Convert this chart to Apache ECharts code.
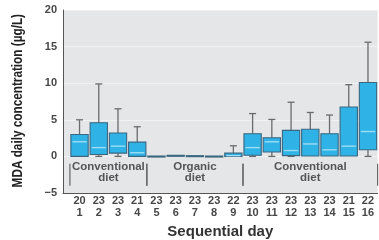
<!DOCTYPE html>
<html>
<head>
<meta charset="utf-8">
<script src="https://cdn.jsdelivr.net/npm/echarts@6/dist/echarts.min.js"></script>
<style>
  html, body { margin: 0; padding: 0; background: #fff; }
  #chart { width: 379px; height: 240px; }
</style>
</head>
<body>
<div id="chart"></div>
<script>
// sequential days and number of samples per day
const days = [1, 2, 3, 4, 5, 6, 7, 8, 9, 10, 11, 12, 13, 14, 15, 16];
const nSamples = [20, 23, 23, 21, 23, 23, 23, 23, 22, 23, 23, 23, 23, 23, 21, 22];

// box statistics (ug/L)
const lowVals = [0, 0, 0, 0, 0, 0, 0, 0, 0, 0, 0, 0, 0, 0, 0, 0];
const q1Vals = [0, 0.25, 0.45, 0, 0, 0.05, 0.02, 0, 0, 0.15, 0.6, 0.1, 0.05, 0.05, 0.05, 0.9];
const medVals = [2.0, 1.2, 1.4, 0.5, 0, 0.1, 0.05, 0, 0.1, 1.2, 2.0, 0.8, 1.7, 0.9, 1.4, 3.4];
const q3Vals = [3.0, 4.6, 3.2, 1.95, 0.05, 0.15, 0.1, 0.05, 0.45, 3.1, 2.55, 3.55, 3.7, 3.1, 6.75, 10.1];
const highVals = [5.0, 9.9, 6.5, 4.05, 0.05, 0.2, 0.15, 0.05, 1.45, 5.85, 5.05, 7.4, 6.0, 5.65, 9.8, 15.6];

// diet periods
const groupNames = ['Conventional\ndiet', 'Organic\ndiet', 'Conventional\ndiet'];
const groupStart = [0.5, 4.5, 9.5];
const groupEnd = [4.5, 9.5, 16.5];

const yTicks = [-5, 0, 5, 10, 15, 20];
const yTitle = 'MDA daily concentration (\u00b5g/L)';

const boxData = days.map((d, i) => [d, lowVals[i], q1Vals[i], medVals[i], q3Vals[i], highVals[i]]);
const groupData = groupNames.map((g, i) => [groupStart[i], groupEnd[i], i]);

const labelFont = "'Liberation Sans', Arial, sans-serif";

const chart = echarts.init(document.getElementById('chart'));

const renderBox = (params, api) => {
  const x = api.value(0);
  const unit = api.size([1, 0])[0];
  const half = unit * 0.45;
  const cap = 3.5;
  const pLow = api.coord([x, api.value(1)]);
  const pQ1 = api.coord([x, api.value(2)]);
  const pMed = api.coord([x, api.value(3)]);
  const pQ3 = api.coord([x, api.value(4)]);
  const pHigh = api.coord([x, api.value(5)]);
  const whisker = { stroke: '#6b6b6b', lineWidth: 1.3 };
  const children = [];
  if (pHigh[1] < pQ3[1] - 0.5) {
    children.push(
      { type: 'line', shape: { x1: pHigh[0], y1: pHigh[1], x2: pQ3[0], y2: pQ3[1] }, style: whisker },
      { type: 'line', shape: { x1: pHigh[0] - cap, y1: pHigh[1], x2: pHigh[0] + cap, y2: pHigh[1] }, style: whisker }
    );
  }
  if (pLow[1] > pQ1[1] + 0.5) {
    children.push(
      { type: 'line', shape: { x1: pLow[0], y1: pLow[1], x2: pQ1[0], y2: pQ1[1] }, style: whisker },
      { type: 'line', shape: { x1: pLow[0] - cap, y1: pLow[1], x2: pLow[0] + cap, y2: pLow[1] }, style: whisker }
    );
  }
  const h = Math.max(pQ1[1] - pQ3[1], 1);
  children.push({
    type: 'rect',
    shape: { x: pQ3[0] - half, y: pQ3[1], width: half * 2, height: h },
    style: { fill: '#2fb3e6', stroke: '#3b6680', lineWidth: 1.1 }
  });
  if (pQ1[1] - pQ3[1] > 3) {
    children.push({
      type: 'line',
      shape: { x1: pMed[0] - half + 1.5, y1: pMed[1], x2: pMed[0] + half - 1.5, y2: pMed[1] },
      style: { stroke: '#9edcf5', lineWidth: 1.4 }
    });
  }
  return { type: 'group', children };
};

const renderGroup = (params, api) => {
  const x0 = api.value(0);
  const x1 = api.value(1);
  const idx = api.value(2);
  const a0 = api.coord([x0, -1]);
  const b0 = api.coord([x0, -4]);
  const a1 = api.coord([x1, -1]);
  const b1 = api.coord([x1, -4]);
  const mid = api.coord([(x0 + x1) / 2, -2.2]);
  const sep = { stroke: '#666', lineWidth: 1.2 };
  return {
    type: 'group',
    children: [
      { type: 'line', shape: { x1: a0[0], y1: a0[1], x2: b0[0], y2: b0[1] }, style: sep },
      { type: 'line', shape: { x1: a1[0], y1: a1[1], x2: b1[0], y2: b1[1] }, style: sep },
      {
        type: 'text',
        x: mid[0],
        y: mid[1],
        style: {
          text: groupNames[idx],
          fill: '#555',
          font: "bold 11.5px " + labelFont,
          align: 'center',
          verticalAlign: 'middle',
          lineHeight: 11
        }
      }
    ]
  };
};

chart.setOption({
  animation: false,
  // rotated, condensed y-axis title
  graphic: [
    {
      type: 'text',
      left: 11,
      top: 14,
      rotation: Math.PI / 2,
      scaleX: 0.84,
      style: {
        text: yTitle,
        fill: '#222',
        font: 'bold 14px ' + labelFont
      }
    }
  ],
  grid: {
    left: 63,
    right: 1.4,
    top: 10,
    bottom: 47,
    outerBoundsMode: 'none',
    show: true,
    backgroundColor: '#e5e6e8',
    borderWidth: 0
  },
  xAxis: {
    type: 'value',
    min: 0.14,
    max: 16.5,
    name: 'Sequential day',
    nameLocation: 'middle',
    nameGap: 28,
    nameTextStyle: { color: '#333', fontSize: 15, fontWeight: 'bold', fontFamily: labelFont },
    axisLine: { onZero: false, lineStyle: { color: '#555', width: 1 } },
    axisTick: { show: false },
    splitLine: { show: false },
    axisLabel: {
      customValues: days,
      margin: 2,
      color: '#474747',
      fontSize: 11,
      fontWeight: 'bold',
      fontFamily: labelFont,
      lineHeight: 12,
      formatter: (v) => nSamples[days.indexOf(v)] + '\n' + v
    }
  },
  yAxis: {
    type: 'value',
    min: yTicks[0],
    max: yTicks[yTicks.length - 1],
    interval: 5,
    axisLine: { show: true, onZero: false, lineStyle: { color: '#555', width: 1 } },
    axisTick: { show: false },
    splitLine: { lineStyle: { color: '#f1f2f3', width: 1 } },
    axisLabel: {
      margin: 6,
      color: '#474747',
      fontSize: 11,
      fontWeight: 'bold',
      fontFamily: labelFont,
      formatter: (v) => (v < 0 ? '\u2212' + Math.abs(v) : String(v))
    }
  },
  series: [
    {
      type: 'custom',
      renderItem: renderBox,
      encode: { x: 0, y: [1, 2, 3, 4, 5] },
      data: boxData,
      z: 3
    },
    {
      type: 'custom',
      renderItem: renderGroup,
      encode: { x: [0, 1] },
      data: groupData,
      z: 2
    }
  ]
});
</script>
</body>
</html>
